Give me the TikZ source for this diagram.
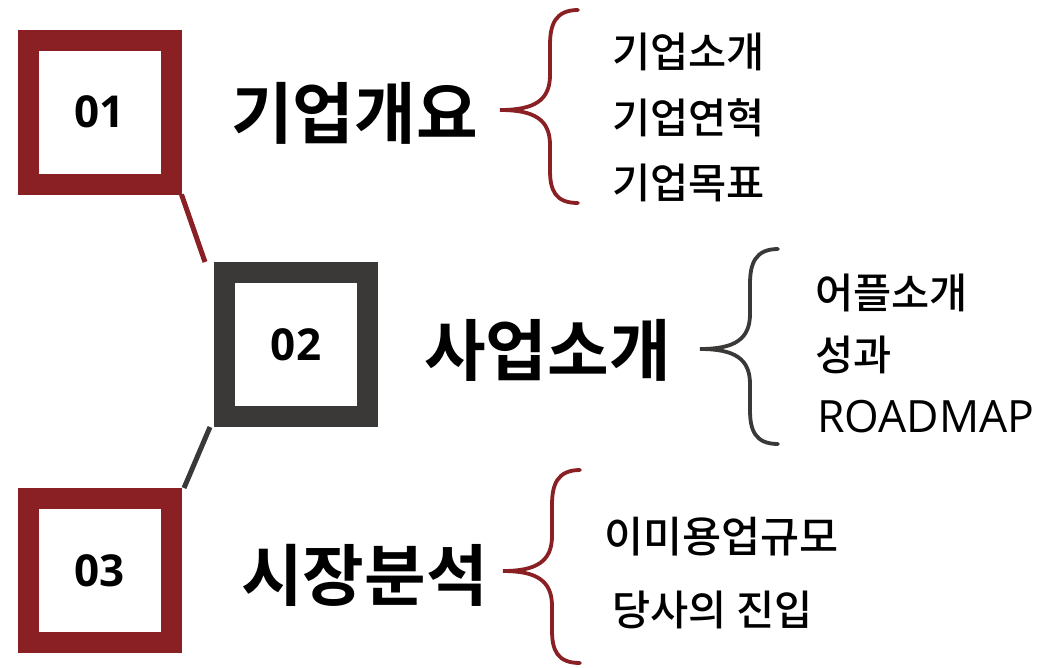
\documentclass[tikz,border=0pt]{standalone}
\usepackage{fontspec}
\newfontfamily\kr{Noto Sans CJK KR Medium}
\newfontfamily\krbold{Noto Sans CJK KR Bold}
\newfontfamily\latin{Open Sans}
\usetikzlibrary{calc}
\definecolor{cred}{RGB}{139,32,36}
\definecolor{cgray}{RGB}{59,57,55}
\tikzset{
  numbox/.style={draw=#1, line width=21pt, fill=white, minimum width=143pt, minimum height=144pt, inner sep=0pt, font=\latin\bfseries\fontsize{44}{44}\selectfont},
  title/.style={anchor=west, inner sep=0pt, font=\krbold\fontsize{67}{67}\selectfont},
  item/.style={anchor=west, inner sep=0pt, font=\kr\fontsize{41.5}{41.5}\selectfont},
  link/.style={line width=5pt, draw=#1},
  brace/.style={line width=3.8pt, draw=#1, line cap=round}
}
\begin{document}
\begin{tikzpicture}[x=1pt,y=-1pt]
\useasboundingbox (0,0) rectangle (1042,667);
\path (99.5,112) coordinate (c1) (296,344.5) coordinate (c2) (99.5,570.5) coordinate (c3);
\node[numbox=cred, draw=none, fill=none] (b1) at (c1) {};
\node[numbox=cgray, draw=none, fill=none] (b2) at (c2) {};
\node[numbox=cred, draw=none, fill=none] (b3) at (c3) {};
\draw[link=cred] (b1.south east) -- ($(b2.north west)+(-9,0)$);
\draw[link=cgray] ($(b2.south west)+(-4,0)$) -- ($(b3.north east)+(2.5,0)$);
\node[numbox=cred] (n1) at (c1) {01};
\node[numbox=cgray] (n2) at (c2) {02};
\node[numbox=cred] (n3) at (c3) {03};
% titles
\node[title] (t1) at (231,113) {기업개요};
\node[title] (t2) at (424,350) {사업소개};
\node[title] (t3) at (241,575) {시장분석};
% braces
\draw[brace=cred] (578,10) .. controls (555,10) and (550,25) .. (550,45) -- (550,75)
  .. controls (550,100) and (535,110) .. (500,110)
  .. controls (535,110) and (550,120) .. (550,145) -- (550,170)
  .. controls (550,190) and (555,203) .. (578,203);
\draw[brace=cgray] (778,249) .. controls (755,249) and (750,264) .. (750,284) -- (750,314)
  .. controls (750,339) and (735,349) .. (700,349)
  .. controls (735,349) and (750,359) .. (750,384) -- (750,410)
  .. controls (750,430) and (755,444) .. (778,444);
\draw[brace=cred] (580,470) .. controls (557,470) and (552,485) .. (552,505) -- (552,536)
  .. controls (552,561) and (537,571) .. (503,571)
  .. controls (537,571) and (552,581) .. (552,606) -- (552,630)
  .. controls (552,650) and (557,663) .. (580,663);
% items
\node[item] (i11) at (612,52) {기업소개};
\node[item] (i12) at (612,118) {기업연혁};
\node[item] (i13) at (612,183) {기업목표};
\node[item] (i21) at (815,293) {어플소개};
\node[item] (i22) at (815,355) {성과};
\node[item, font=\latin\fontsize{44.5}{44.5}\selectfont] (i23) at (817,417) {ROADMAP};
\node[item, font=\kr\fontsize{42.5}{42.5}\selectfont] (i31) at (604,537) {이미용업규모};
\node[item] (i32) at (612,610) {당사의 진입};
\end{tikzpicture}
\end{document}
